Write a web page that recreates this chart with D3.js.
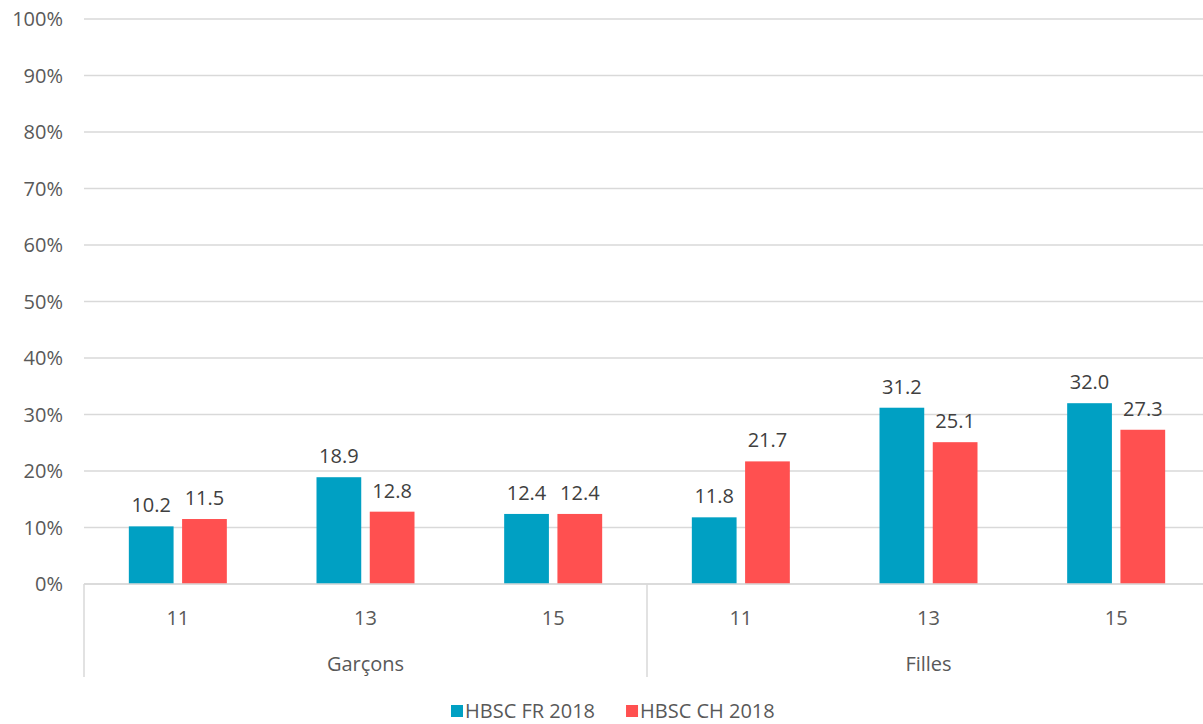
<!DOCTYPE html>
<html>
<head>
<meta charset="utf-8">
<script src="https://cdn.jsdelivr.net/npm/d3@7"></script>
<style>
  body { margin: 0; background: #fff; }
  svg text { font-family: "Open Sans", "Liberation Sans", sans-serif; }
</style>
</head>
<body>
<div id="chart"></div>
<script>
// ages within each group
var ages = ["11", "13", "15", "11", "13", "15"];
var groups = ["Garçons", "Filles"];
var seriesNames = ["HBSC FR 2018", "HBSC CH 2018"];
var frValues = [10.2, 18.9, 12.4, 11.8, 31.2, 32.0];
var chValues = [11.5, 12.8, 12.4, 21.7, 25.1, 27.3];
var yTicks = [0, 10, 20, 30, 40, 50, 60, 70, 80, 90, 100];
var colors = ["#00A0C3", "#FF5050"];

var width = 1203, height = 724;
var margin = {top: 19, left: 84, right: -7, bottom: 140};
var plotW = width - margin.left - margin.right;
var plotH = height - margin.top - margin.bottom;
var fontSize = "20px";

var svg = d3.select("#chart").append("svg")
  .attr("width", width)
  .attr("height", height);

var g = svg.append("g")
  .attr("transform", "translate(" + margin.left + "," + margin.top + ")");

var y = d3.scaleLinear().domain([0, 100]).range([plotH, 0]);
var x = d3.scaleBand().domain(d3.range(ages.length)).range([0, plotW]);
//inner scale for the two bars in each category
var xInner = d3.scaleBand().domain([0, 1]).range([x.bandwidth()/2 - 49, x.bandwidth()/2 + 49]).paddingInner(0.16);

//gridlines
g.selectAll(".grid").data(yTicks).enter().append("line")
  .attr("x1", 0).attr("x2", plotW)
  .attr("y1", function (d) { return y(d); })
  .attr("y2", function (d) { return y(d); })
  .attr("stroke", "#d9d9d9")
  .attr("stroke-width", 1.5);

//y labels
g.selectAll(".ylab").data(yTicks).enter().append("text")
  .attr("x", -21)
  .attr("y", function (d) { return y(d); })
  .attr("dy", "0.35em")
  .attr("text-anchor", "end")
  .attr("fill", "#595959")
  .style("font-size", fontSize)
  .text(function (d) { return d + "%"; });

var rows = ages.map(function (a, i) { return [frValues[i], chValues[i]]; });

var cat = g.selectAll(".cat").data(rows).enter().append("g")
  .attr("transform", function (d, i) { return "translate(" + x(i) + ",0)"; });

cat.selectAll("rect").data(function (d) { return d; }).enter().append("rect")
  .attr("x", function (d, j) { return xInner(j); })
  .attr("width", xInner.bandwidth())
  .attr("y", function (d) { return y(d); })
  .attr("height", function (d) { return plotH - y(d); })
  .attr("fill", function (d, j) { return colors[j]; });

cat.selectAll(".val").data(function (d) { return d; }).enter().append("text")
  .attr("x", function (d, j) { return xInner(j) + xInner.bandwidth()/2; })
  .attr("y", function (d) { return y(d) - 14; })
  .attr("text-anchor", "middle")
  .attr("fill", "#404040")
  .style("font-size", fontSize)
  .text(function (d) { return d.toFixed(1); });

//x axis baseline redraw on top
g.append("line")
  .attr("x1", 0).attr("x2", plotW)
  .attr("y1", plotH).attr("y2", plotH)
  .attr("stroke", "#d9d9d9").attr("stroke-width", 1.5);

//category separators: left edge and between groups
var perGroup = ages.length / groups.length;
[0, perGroup].forEach(function (i) {
  g.append("line")
    .attr("x1", x(i)).attr("x2", x(i))
    .attr("y1", plotH).attr("y2", plotH + 93)
    .attr("stroke", "#d9d9d9").attr("stroke-width", 1.5);
});

g.selectAll(".age").data(ages).enter().append("text")
  .attr("x", function (d, i) { return x(i) + x.bandwidth()/2; })
  .attr("y", plotH + 41)
  .attr("text-anchor", "middle")
  .attr("fill", "#595959")
  .style("font-size", fontSize)
  .text(function (d) { return d; });

g.selectAll(".grp").data(groups).enter().append("text")
  .attr("x", function (d, i) { return x(i*perGroup) + x.bandwidth()*perGroup/2; })
  .attr("y", plotH + 87)
  .attr("text-anchor", "middle")
  .attr("fill", "#595959")
  .style("font-size", fontSize)
  .text(function (d) { return d; });

//legend
var legend = svg.append("g").attr("transform", "translate(451," + 705 + ")");
var lx = 0;
seriesNames.forEach(function (name, i) {
  var item = legend.append("g").attr("transform", "translate(" + lx + ",0)");
  item.append("rect").attr("width", 12).attr("height", 12).attr("fill", colors[i]);
  var t = item.append("text")
    .attr("x", 14).attr("y", 13)
    .attr("fill", "#595959")
    .style("font-size", fontSize)
    .text(name);
  lx += 14 + t.node().getBBox().width + 31;
});
</script>
</body>
</html>
